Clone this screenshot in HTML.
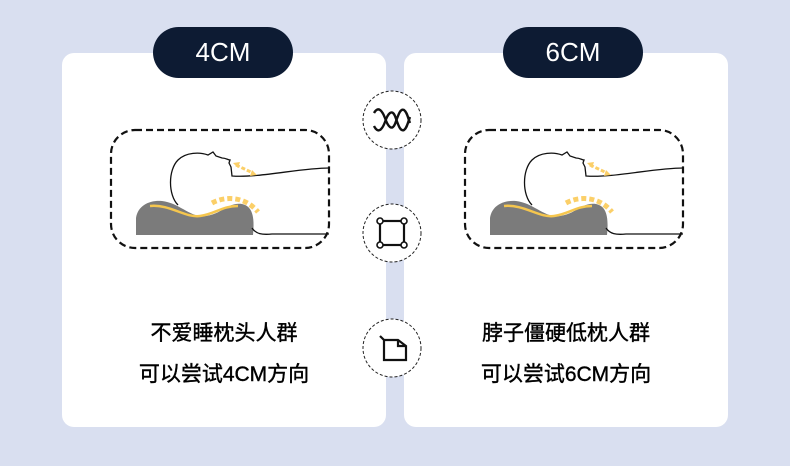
<!DOCTYPE html>
<html><head><meta charset="utf-8"><style>
body{margin:0;width:790px;height:466px;background:#d9dff0;position:relative;overflow:hidden;font-family:"Liberation Sans","Noto Sans CJK SC",sans-serif}
.card{position:absolute;top:53px;width:324px;height:374px;background:#fff;border-radius:12px}
.pill{position:absolute;top:27px;height:51px;width:140px;background:#0d1b33;border-radius:26px;color:#fff;font-size:26px;line-height:51px;text-align:center}
.txt{position:absolute;width:324px;text-align:center;font-size:21px;color:#000;line-height:41px;top:313px;font-weight:normal;-webkit-text-stroke:0.4px #000}
svg{position:absolute;left:0;top:0}
</style></head><body>
<div class="card" style="left:62px"></div>
<div class="card" style="left:404px"></div>
<div class="pill" style="left:153px">4CM</div>
<div class="pill" style="left:503px">6CM</div>
<div class="txt" style="left:62px">不爱睡枕头人群<br>可以尝试4CM方向</div>
<div class="txt" style="left:404px">脖子僵硬低枕人群<br>可以尝试6CM方向</div>
<svg width="790" height="466">
<defs>
<g id="d">
<rect x="111" y="130" width="218" height="118" rx="24" fill="none" stroke="#111" stroke-width="2.2" stroke-dasharray="7 4"/>
<path d="M136,235 L136,218 C138,205 150,200 162,201 C180,203 190,218 206,216 C222,214 228,202 242,204 C252,206 255,216 253,235 Z" fill="#7b7b7b"/>
<path d="M150,206 C170,204 185,218 200,216 C215,214 222,206 238,206" fill="none" stroke="#f5c64e" stroke-width="2.5"/>
<path d="M212,203 C225,196 245,196 258,212" fill="none" stroke="#fbcf68" stroke-width="5" stroke-dasharray="5 3"/>
<path d="M178,205 C168,195 168,170 178,160 C186,152 200,152 208,155 L213,152 L216,156 L222,158 C226,158 228,160 230,160 L229,163 L231,167 L232,176 C260,178 300,168 329,168" fill="none" stroke="#111" stroke-width="1.3"/>
<path d="M252,228 C256,234 262,235 272,234 L329,234" fill="none" stroke="#111" stroke-width="1.3"/>
<path d="M236,165 L253,173" stroke="#fbcf68" stroke-width="3" stroke-dasharray="4 2"/>
<path d="M233,163 L240,162 L238,168 Z M257,175 L250,176 L252,170 Z" fill="#fbcf68"/>
</g>
</defs>
<use href="#d"/>
<use href="#d" transform="translate(354,0)"/>
<g fill="#fff" stroke="#222" stroke-width="1" stroke-dasharray="3 2">
<circle cx="392" cy="120" r="29"/><circle cx="392" cy="233" r="29"/><circle cx="392" cy="348" r="29"/>
</g>
<path d="M374,113 C378,106 382,110 385,118 C388,127 392,131 395,124 C398,116 400,108 404,110 C407,112 408,118 410,123" fill="none" stroke="#111" stroke-width="2.4"/>
<path d="M374,126 C378,134 382,130 385,122 C388,113 392,109 395,116 C398,124 400,132 404,130 C407,128 408,122 410,117" fill="none" stroke="#111" stroke-width="2.4"/>
<rect x="380" y="221" width="24" height="24" fill="none" stroke="#111" stroke-width="2.2"/>
<g fill="#fff" stroke="#111" stroke-width="1.6"><circle cx="380" cy="221" r="3"/><circle cx="404" cy="221" r="3"/><circle cx="380" cy="245" r="3"/><circle cx="404" cy="245" r="3"/></g>
<path d="M380,336 L384,340 L384,360 L406,360 L406,346 L398,340 L384,340 M398,340 L398,346 L406,346" fill="none" stroke="#111" stroke-width="2.2"/>
</svg>
</body></html>
